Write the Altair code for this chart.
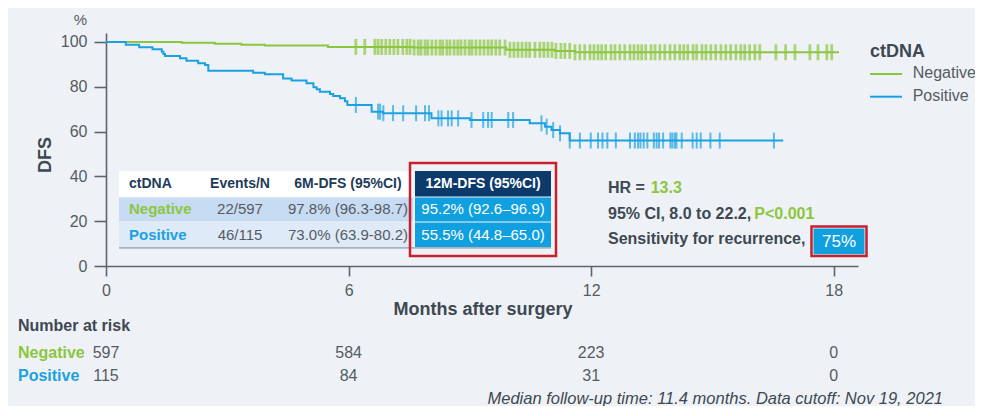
import altair as alt
import pandas as pd

# ---------------- data ----------------
groups = ["Negative", "Positive"]

# Kaplan-Meier step curves (months, DFS %)
neg_months = [0, 1.87, 2.69, 3.35, 3.93, 5.49, 7.6, 9.9, 11.1, 11.6, 18.13]
neg_dfs = [100, 99.7, 99.2, 98.8, 98.4, 97.8, 97.5, 96.5, 96.0, 95.4, 95.4]

pos_months = [0, 0.49, 0.82, 1.15, 1.38, 1.42, 1.46, 1.83, 1.99, 2.28, 2.45, 2.53,
              3.64, 3.93, 4.38, 4.59, 4.96, 5.13, 5.21, 5.29, 5.54, 5.62, 5.79,
              5.91, 5.97, 6.57, 6.85, 8.05, 9.0, 10.48, 10.86, 11.02, 11.23, 11.47, 16.75]
pos_dfs = [100, 98.7, 97.6, 96.7, 95.6, 94.6, 93.7, 92.7, 91.6, 90.5, 89.7, 87.2,
           86.3, 85.6, 83.7, 82.8, 81.6, 79.8, 78.9, 77.8, 76.8, 75.9, 74.9,
           73.5, 71.9, 68.9, 68.2, 65.9, 65.2, 63.7, 62.2, 60.7, 59.2, 56.0, 56.0]

# censoring times (months)
neg_censor = [6.18, 6.40, 6.65, 6.73, 6.82, 6.92, 7.02, 7.12, 7.22, 7.34, 7.44, 7.52,
              7.62, 7.72, 7.79, 7.89, 7.96, 8.06, 8.16, 8.26, 8.33, 8.43, 8.51, 8.61,
              8.70, 8.78, 8.88, 8.98, 9.05, 9.15, 9.25, 9.35, 9.45, 9.54, 9.64, 9.74,
              9.87, 9.99, 10.09, 10.19, 10.29, 10.39, 10.48, 10.61, 10.73, 10.83, 10.93,
              11.03, 11.13, 11.25, 11.35, 11.47, 11.60, 11.72, 11.84, 11.97, 12.07, 12.17,
              12.26, 12.36, 12.49, 12.59, 12.71, 12.83, 12.96, 13.06, 13.16, 13.25, 13.35,
              13.48, 13.58, 13.70, 13.82, 13.95, 14.07, 14.19, 14.29, 14.39, 14.52, 14.61,
              14.74, 14.84, 14.96, 15.08, 15.21, 15.33, 15.45, 15.58, 15.70, 15.80, 15.92,
              16.05, 16.17, 16.57, 16.81, 17.04, 17.41, 17.61, 17.83, 17.95]
pos_censor = [6.18, 6.73, 6.78, 6.86, 7.10, 7.35, 7.67, 7.89, 7.99, 8.22, 8.30, 8.46,
              8.55, 8.71, 9.04, 9.33, 9.45, 9.54, 9.95, 10.07, 10.77, 10.90, 11.06,
              11.23, 11.47, 11.72, 11.99, 12.17, 12.28, 12.40, 12.61, 12.96, 13.08, 13.16,
              13.22, 13.30, 13.39, 13.55, 13.62, 13.68, 13.78, 13.96, 14.01, 14.07, 14.11,
              14.24, 14.51, 14.61, 14.71, 14.95, 15.18, 16.52]

x_ticks = [0, 6, 12, 18]
y_ticks = [0, 20, 40, 60, 80, 100]

table_header = ["ctDNA", "Events/N", "6M-DFS (95%CI)", "12M-DFS (95%CI)"]
table_groups = ["Negative", "Positive"]
table_events = ["22/597", "46/115"]
table_6m = ["97.8% (96.3-98.7)", "73.0% (63.9-80.2)"]
table_12m = ["95.2% (92.6\u201396.9)", "55.5% (44.8\u201365.0)"]

risk_months = [0, 6, 12, 18]
risk_neg = [597, 584, 223, 0]
risk_pos = [115, 84, 31, 0]

hr_label = "HR = "
hr_value = "13.3"
ci_text = "95% CI, 8.0 to 22.2, "
p_text = "P<0.001"
sens_label = "Sensitivity for recurrence,"
sens_value = "75%"
footnote = "Median follow-up time: 11.4 months. Data cutoff: Nov 19, 2021"

# ---------------- styles ----------------
FONT = "Liberation Sans, Arial, sans-serif"
BG = "#eef2f6"
GREEN = "#8cc63f"
BLUE = "#1ba1e2"
NAVY = "#0c3a6b"
CELLBLUE = "#10a0e0"
RED = "#c8202c"
DARK = "#3e4852"
GREY = "#555b62"
AXC = "#5a6570"
HEAD = "#1e3b5a"


def level_at(t, months, dfs):
    v = dfs[0]
    for m, d in zip(months, dfs):
        if m <= t:
            v = d
    return v


rows = []
for g, ms, ds in [("Negative", neg_months, neg_dfs), ("Positive", pos_months, pos_dfs)]:
    for m, d in zip(ms, ds):
        rows.append({"group": g, "month": m, "dfs": d})
curve = pd.DataFrame(rows)

crow = []
for g, cs, ms, ds in [("Negative", neg_censor, neg_months, neg_dfs),
                      ("Positive", pos_censor, pos_months, pos_dfs)]:
    for c in cs:
        crow.append({"group": g, "month": c, "dfs": level_at(c, ms, ds)})
cens = pd.DataFrame(crow)

risk = pd.DataFrame({"month": risk_months * 2,
                     "n": [str(v) for v in risk_neg + risk_pos],
                     "group": ["Negative"] * 4 + ["Positive"] * 4})

XS = alt.Scale(domain=[0, 18.6], nice=False, zero=False)
YS = alt.Scale(domain=[0, 104], nice=False, zero=False)
CS = alt.Scale(domain=groups, range=[GREEN, BLUE])

axis_common = dict(domainColor=AXC, domainWidth=1.6, tickColor=AXC, tickWidth=1.6,
                   labelFont=FONT, labelFontSize=16, labelColor=GREY, grid=False,
                   labelFlush=False, title=None)
X_AXIS = alt.Axis(values=x_ticks, tickSize=10, labelPadding=6, format="d", **axis_common)
Y_AXIS = alt.Axis(values=y_ticks, tickSize=12, labelPadding=7, format="d", **axis_common)

lines = alt.Chart(curve).mark_line(interpolate="step-after", strokeWidth=2).encode(
    x=alt.X("month:Q", scale=XS, axis=X_AXIS),
    y=alt.Y("dfs:Q", scale=YS, axis=Y_AXIS),
    color=alt.Color("group:N", scale=CS, legend=None),
)

layers = [lines]
for g, th in [("Negative", 2.8), ("Positive", 2.0)]:
    layers.append(
        alt.Chart(cens).transform_filter(alt.datum.group == g)
        .mark_tick(orient="vertical", size=16, thickness=th).encode(
            x=alt.X("month:Q", scale=XS, axis=X_AXIS),
            y=alt.Y("dfs:Q", scale=YS, axis=Y_AXIS),
            color=alt.Color("group:N", scale=CS, legend=None),
        )
    )

one = pd.DataFrame({"k": [0]})


def rect(x1, x2, y1, y2, **kw):
    return alt.Chart(one).mark_rect(**kw).encode(
        x=alt.value(x1), x2=alt.value(x2), y=alt.value(y1), y2=alt.value(y2))


def text(s, x, y, size=16, color=DARK, weight="normal", align="left", **kw):
    return alt.Chart(one).mark_text(text=s, font=FONT, fontSize=size, color=color,
                                    fontWeight=weight, align=align, baseline="middle", **kw
                                    ).encode(x=alt.value(x), y=alt.value(y))


def rule(x1, x2, y, color, width=2):
    return alt.Chart(one).mark_rule(color=color, strokeWidth=width).encode(
        x=alt.value(x1), x2=alt.value(x2), y=alt.value(y))


# ---- table ----
row_y = [(138, 163.5), (164.5, 188.5), (189.5, 214)]
left_fills = ["#ffffff", "#c7dcf2", "#deeaf8"]
right_fills = [NAVY, CELLBLUE, CELLBLUE]
for (y1, y2), lf, rf in zip(row_y, left_fills, right_fills):
    layers.append(rect(13, 307, y1, y2, fill=lf))
    layers.append(rect(309, 445, y1, y2, fill=rf))
layers.append(rect(13, 445, 214, 215.8, fill="#a9b2bc"))
layers.append(rect(304, 450, 130, 223, fill="transparent", stroke=RED, strokeWidth=2.5))

col_x = [23, 134, 242, 377]
col_align = ["left", "center", "center", "center"]
ty = [150.7, 176.2, 201.5]
for i, h in enumerate(table_header):
    layers.append(text(h, col_x[i], ty[0], size=14, weight="bold",
                       color="#ffffff" if i == 3 else HEAD, align=col_align[i]))
for r in range(2):
    gcol = GREEN if r == 0 else BLUE
    layers.append(text(table_groups[r], col_x[0], ty[r + 1], size=15, weight="bold", color=gcol))
    layers.append(text(table_events[r], col_x[1], ty[r + 1], size=15, color=GREY, align="center"))
    layers.append(text(table_6m[r], col_x[2], ty[r + 1], size=15, color=GREY, align="center"))
    layers.append(text(table_12m[r], col_x[3], ty[r + 1], size=15, color="#ffffff", align="center"))

# ---- HR annotation ----
layers.append(text(hr_label, 502, 155, weight="bold"))
layers.append(text(hr_value, 544.7, 155, weight="bold", color=GREEN))
layers.append(text(ci_text, 502, 181, weight="bold"))
layers.append(text(p_text, 648.3, 181, weight="bold", color=GREEN))
layers.append(text(sens_label, 502, 206, weight="bold"))
layers.append(rect(707.5, 758.5, 195.5, 221.2, fill=CELLBLUE))
layers.append(rect(705.5, 760.5, 193.5, 223, fill="transparent", stroke=RED, strokeWidth=2.5))
layers.append(text(sens_value, 733, 208.5, size=17, color="#ffffff", align="center"))

# ---- legend ----
layers.append(text("ctDNA", 764, 18.5, size=18, weight="bold"))
layers.append(rule(764, 796, 41, GREEN))
layers.append(rule(764, 796, 63.7, BLUE))
layers.append(text(groups[0], 806.7, 40, color=GREY))
layers.append(text(groups[1], 806.7, 63, color=GREY))

# ---- axis titles ----
layers.append(text("%", -25.5, -13, size=15, color=GREY, align="center"))
layers.append(text("DFS", -60, 122, size=18, weight="bold", align="center", angle=270))
layers.append(text("Months after surgery", 377, 277, size=18, weight="bold", align="center"))

# ---- number at risk ----
layers.append(text("Number at risk", -88, 293, weight="bold"))
layers.append(text(groups[0], -88, 320, weight="bold", color=GREEN))
layers.append(text(groups[1], -88, 343, weight="bold", color=BLUE))
for g, yy in [("Negative", 320), ("Positive", 343)]:
    layers.append(
        alt.Chart(risk).transform_filter(alt.datum.group == g)
        .mark_text(font=FONT, fontSize=16, color=GREY, align="center", baseline="middle")
        .encode(x=alt.X("month:Q", scale=XS, axis=X_AXIS), y=alt.value(yy), text="n:N")
    )

layers.append(text(footnote, 837, 366, size=16.5, color=DARK, align="right", fontStyle="italic"))

chart = alt.layer(*layers).properties(
    width=752, height=233,
    padding={"left": 98, "top": 25, "right": 117, "bottom": 140},
    autosize=alt.AutoSizeParams(type="none"),
    background=BG,
).configure_view(stroke=None)

chart.save("out.html", embed_options={"renderer": "svg", "actions": False})
